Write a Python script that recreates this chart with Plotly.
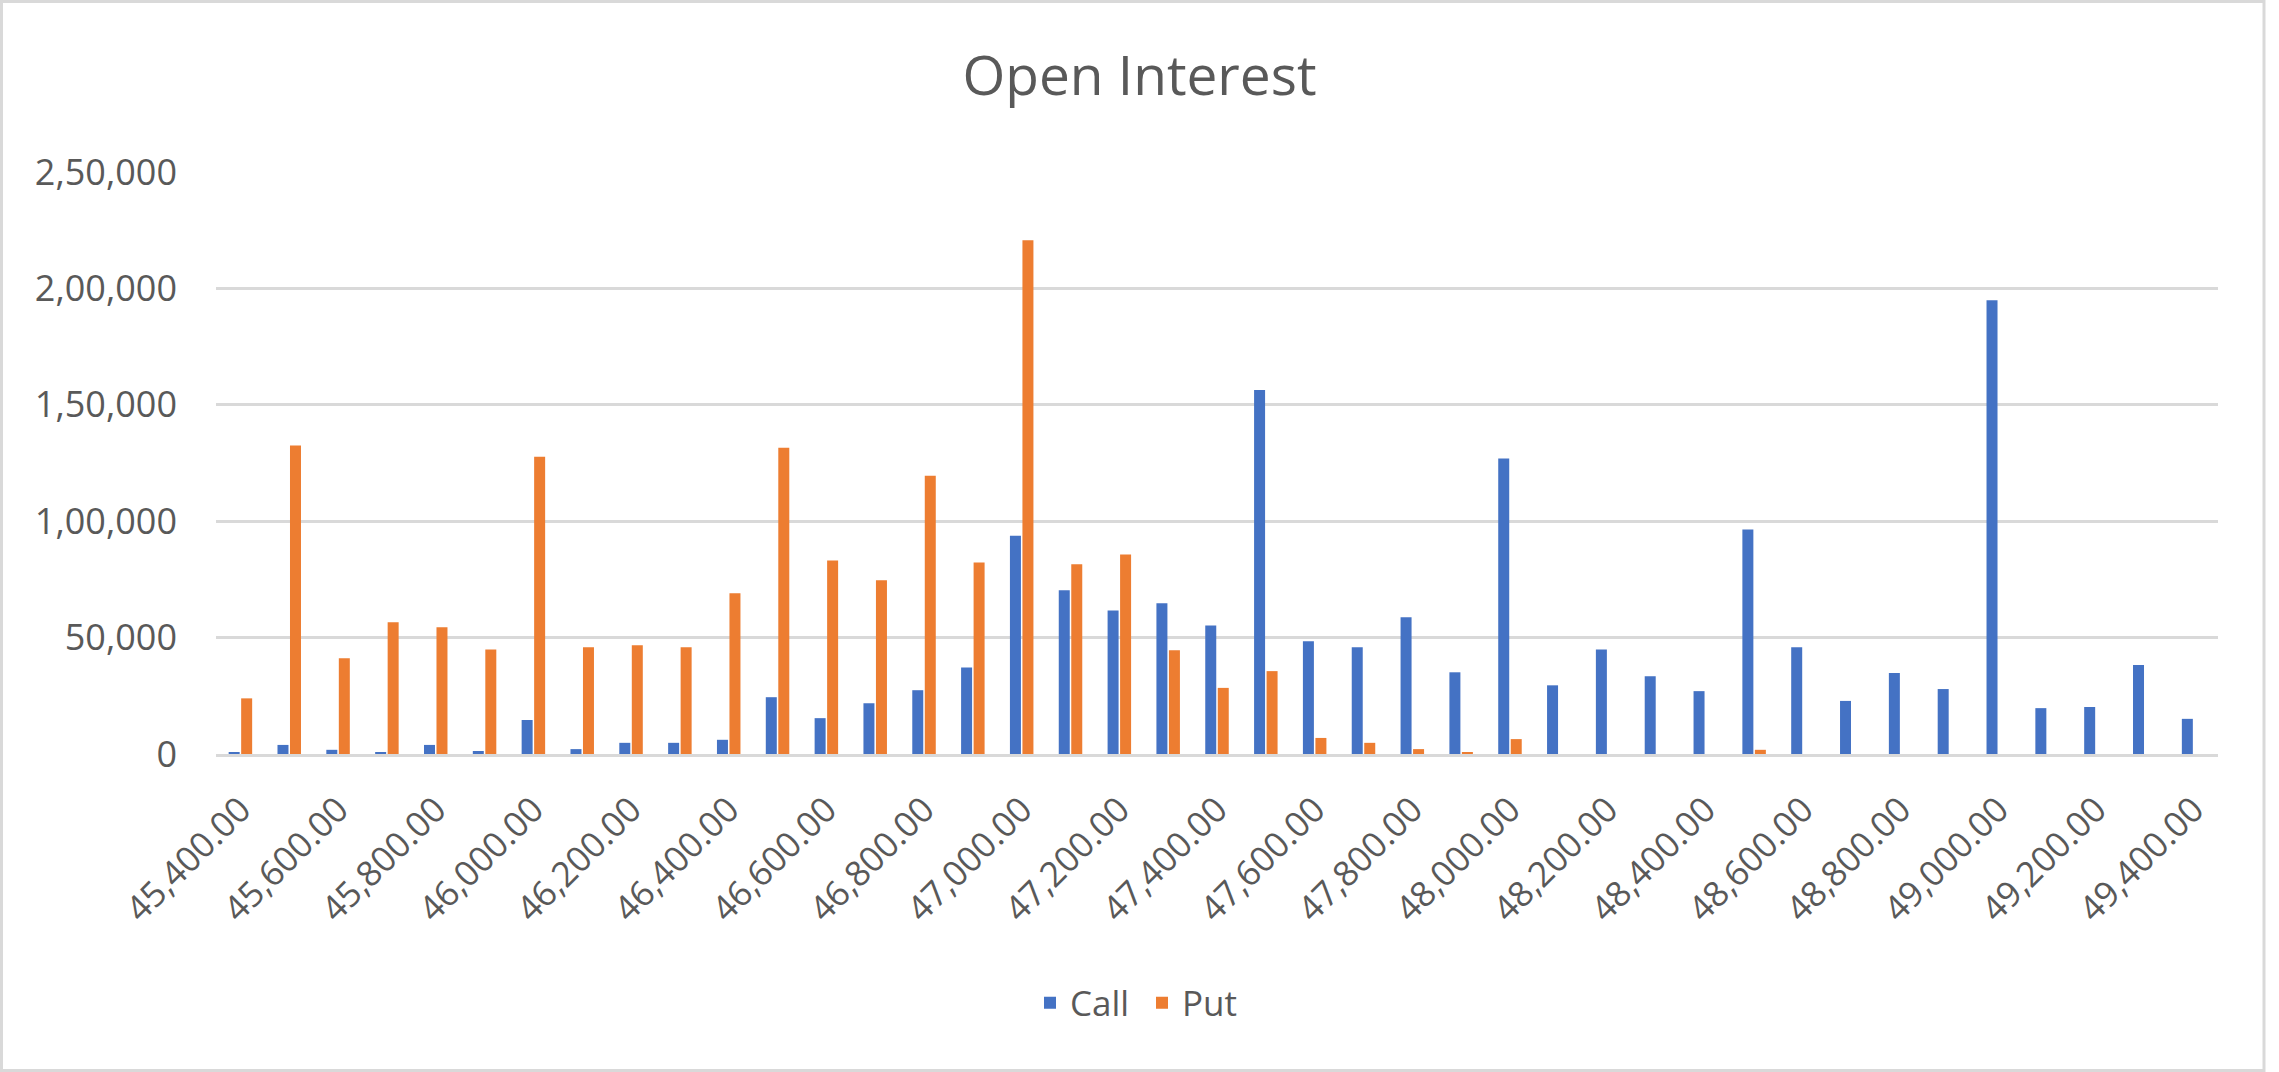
import plotly.graph_objects as go

# ---- data ----
strikes = [45400 + 100 * i for i in range(41)]
strike_labels = [f"{s:,.2f}" for s in strikes]

call_oi = [800, 3900, 1800, 800, 3900, 1300, 14600, 2100, 4800, 4800,
           6100, 24400, 15400, 21800, 27400, 37200, 93800, 70300, 61600, 64800,
           55200, 156400, 48400, 45900, 58700, 35100, 126900, 29500, 44900, 33400,
           27000, 96400, 45900, 22800, 34800, 27900, 194900, 19700, 20200, 38200,
           15100]
put_oi = [23900, 132500, 41100, 56600, 54400, 44900, 127700, 45900, 46700, 45900,
          69000, 131500, 83100, 74600, 119500, 82300, 220700, 81500, 85700, 44600,
          28400, 35600, 6900, 4800, 2100, 800, 6400, 0, 0, 0,
          0, 1800, 0, 0, 0, 0, 0, 0, 0, 0,
          0]

x_tick_vals = strike_labels[::2]
y_tick_vals = [0, 50000, 100000, 150000, 200000, 250000]
y_tick_text = ["0", "50,000", "1,00,000", "1,50,000", "2,00,000", "2,50,000"]

CALL_COLOR = "#4472C4"
PUT_COLOR = "#ED7D31"
TEXT_COLOR = "#595959"
GRID_COLOR = "#D9D9D9"
FONT = "Open Sans, Noto Sans, sans-serif"

W, H = 2279, 1072
ML, MR, MT, MB = 216, 61, 172, 318
PW, PH = W - ML - MR, H - MT - MB

fig = go.Figure()
fig.add_trace(go.Bar(name="Call", x=strike_labels, y=call_oi,
                     marker=dict(color=CALL_COLOR, line=dict(width=0))))
fig.add_trace(go.Bar(name="Put", x=strike_labels, y=put_oi,
                     marker=dict(color=PUT_COLOR, line=dict(width=0))))

fig.update_layout(
    template="none",
    width=W, height=H,
    margin=dict(l=ML, r=MR, t=MT, b=MB, autoexpand=False),
    paper_bgcolor="white", plot_bgcolor="white",
    font=dict(family=FONT, color=TEXT_COLOR, size=35),
    barmode="group", bargap=0.488, bargroupgap=0.12,
    title=dict(text="Open Interest", x=0.5, xref="container", xanchor="center",
               y=1 - 75.5 / H, yref="container", yanchor="middle",
               font=dict(size=55, color=TEXT_COLOR, family=FONT)),
    legend=dict(orientation="h", x=(1142 - ML) / PW, xanchor="center",
                y=-(1003 - (H - MB)) / PH, yanchor="middle",
                font=dict(size=35, color=TEXT_COLOR), bgcolor="rgba(0,0,0,0)",
                itemwidth=30, entrywidth=67, entrywidthmode="pixels"),
    xaxis=dict(type="category", tickmode="array", tickvals=x_tick_vals,
               ticktext=x_tick_vals, tickangle=-45, showgrid=False,
               showline=True, linecolor=GRID_COLOR, linewidth=3,
               ticks="", ticklabelstandoff=18, automargin=False,
               tickfont=dict(size=35, color=TEXT_COLOR)),
    yaxis=dict(range=[0, 250000], tickmode="array", tickvals=y_tick_vals,
               ticktext=y_tick_text, showgrid=True, gridcolor=GRID_COLOR,
               gridwidth=3, zeroline=False, showline=False, ticks="",
               ticklabelstandoff=38, automargin=False,
               tickfont=dict(size=36, color=TEXT_COLOR)),
    shapes=[dict(type="rect", xref="paper", yref="paper",
                 x0=(1.5 - ML) / PW, x1=(2264 - ML) / PW,
                 y0=((H - MB) - 1070.5) / PH, y1=((H - MB) - 1.5) / PH,
                 line=dict(color=GRID_COLOR, width=3), fillcolor="rgba(0,0,0,0)",
                 layer="below")],
)

fig.write_html("out.html",
               config={"displayModeBar": False},
               post_script="document.body.style.margin='0';document.body.style.overflow='hidden';")
